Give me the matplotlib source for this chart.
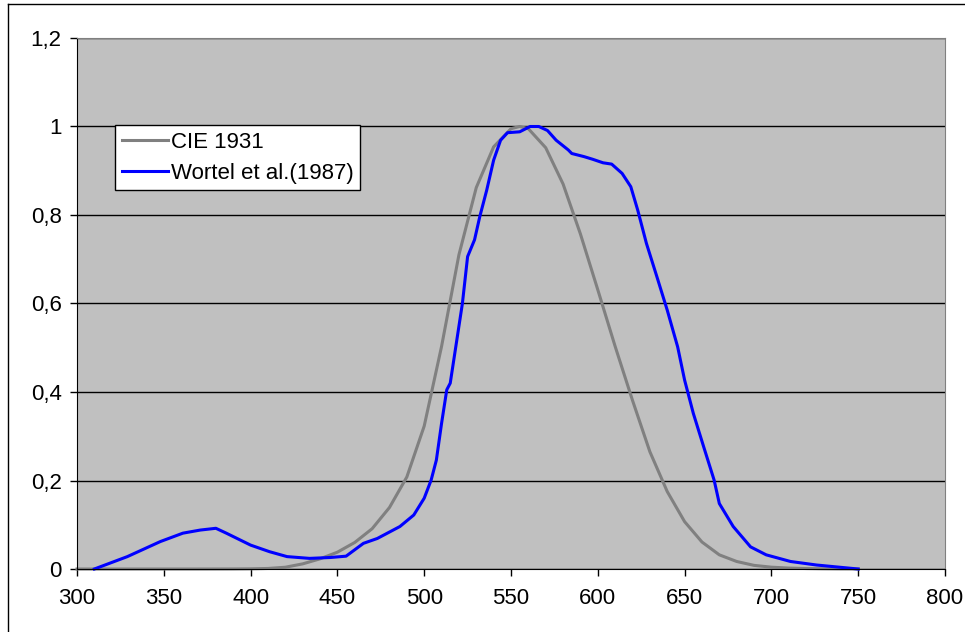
import matplotlib.pyplot as plt
import matplotlib.ticker as ticker
from matplotlib.lines import Line2D

# Fonction de luminosité photopique CIE 1931 V(lambda)
longueurs_cie = [300, 310, 320, 330, 340, 350, 360, 370, 380, 390, 400, 410, 420, 430,
                 440, 450, 460, 470, 480, 490, 500, 510, 520, 530, 540, 550, 555, 560,
                 570, 580, 590, 600, 610, 620, 630, 640, 650, 660, 670, 680, 690, 700,
                 710, 720, 730, 740, 750]
valeurs_cie = [0.0, 0.0, 0.0, 0.0, 0.0, 0.0, 0.0, 0.0, 0.00004, 0.00012, 0.0004, 0.0012,
               0.004, 0.0116, 0.023, 0.038, 0.06, 0.091, 0.139, 0.208, 0.323, 0.503,
               0.71, 0.862, 0.954, 0.995, 1.0, 0.995, 0.952, 0.87, 0.757, 0.631, 0.503,
               0.381, 0.265, 0.175, 0.107, 0.061, 0.032, 0.017, 0.0082, 0.0041, 0.0021,
               0.00105, 0.00052, 0.00025, 0.00012]

# Courbe de Wortel et al. (1987)
longueurs_wortel = [310, 329, 348, 361, 371, 380, 386, 400, 411, 421, 434, 446, 455,
                    465, 473, 486, 494, 500, 504, 507, 510, 513, 515, 522, 525, 529,
                    532, 536, 540, 544, 548, 555, 561, 566, 571, 576, 583, 585, 592,
                    597, 603, 608, 614, 619, 623, 628, 634, 640, 646, 650, 655, 661,
                    667, 670, 678, 688, 697, 711, 726, 750]
valeurs_wortel = [0.0, 0.028, 0.062, 0.081, 0.088, 0.092, 0.081, 0.054, 0.039, 0.028,
                  0.024, 0.026, 0.029, 0.058, 0.069, 0.096, 0.122, 0.16, 0.201, 0.246,
                  0.329, 0.405, 0.42, 0.60, 0.706, 0.744, 0.796, 0.856, 0.924, 0.969,
                  0.986, 0.988, 1.0, 1.0, 0.991, 0.969, 0.947, 0.939, 0.932, 0.926,
                  0.918, 0.915, 0.894, 0.864, 0.811, 0.736, 0.661, 0.585, 0.502, 0.427,
                  0.352, 0.276, 0.201, 0.148, 0.096, 0.05, 0.032, 0.017, 0.009, 0.0]

noms_series = ["CIE 1931", "Wortel et al.(1987)"]


def virgule(valeur, position):
    """Formatte un nombre avec une virgule comme séparateur décimal"""
    return f"{valeur:g}".replace(".", ",")


def definir_graphique():
    """Crée la figure et les axes au style d'un graphique Excel"""
    graphique = plt.figure(figsize=(9.65, 6.32), dpi=100)
    axes = graphique.add_axes([77 / 965, 63 / 632, 868 / 965, 531 / 632])
    axes.set_facecolor("#c0c0c0")

    axes.set_xlim(300, 800)
    axes.set_ylim(0, 1.2)
    axes.xaxis.set_major_locator(ticker.MultipleLocator(50))
    axes.yaxis.set_major_locator(ticker.MultipleLocator(0.2))
    axes.yaxis.set_major_formatter(ticker.FuncFormatter(virgule))

    axes.tick_params(direction="out", length=5, width=1, color="black",
                     labelsize=16)
    axes.tick_params(axis="x", pad=9)
    axes.tick_params(axis="y", pad=6)

    axes.grid(axis="y", color="black", linewidth=1)
    axes.set_axisbelow(True)

    axes.spines["left"].set_color("black")
    axes.spines["bottom"].set_color("black")
    axes.spines["top"].set_color("#808080")
    axes.spines["right"].set_color("#808080")

    # Cadre extérieur du graphique
    graphique.add_artist(Line2D([8 / 965, 8 / 965], [0, 628 / 632],
                                transform=graphique.transFigure,
                                color="black", linewidth=1))
    graphique.add_artist(Line2D([8 / 965, 1], [628 / 632, 628 / 632],
                                transform=graphique.transFigure,
                                color="black", linewidth=1))

    return graphique, axes


def modeliser(axes):
    """Ajoute les deux courbes et la légende"""
    axes.plot(longueurs_cie, valeurs_cie, color="#808080", linewidth=2.2,
              label=noms_series[0], clip_on=False)
    axes.plot(longueurs_wortel, valeurs_wortel, color="#0000ff", linewidth=2.2,
              label=noms_series[1], clip_on=False)

    legende = axes.legend(
        loc="upper left",
        bbox_to_anchor=(38 / 868, 444 / 531),
        fontsize=16,
        frameon=True,
        fancybox=False,
        framealpha=1,
        edgecolor="black",
        handlelength=2.1,
        handletextpad=0.1,
        borderpad=0.3,
        borderaxespad=0,
        labelspacing=0.45,
    )
    legende.get_frame().set_linewidth(1)


def main():
    """Fonction principale du programme"""
    plt.rcParams["font.family"] = ["Liberation Sans", "DejaVu Sans"]
    graphique, axes = definir_graphique()
    modeliser(axes)
    graphique.savefig("out.png", dpi=100)


if __name__ == "__main__":
    main()
